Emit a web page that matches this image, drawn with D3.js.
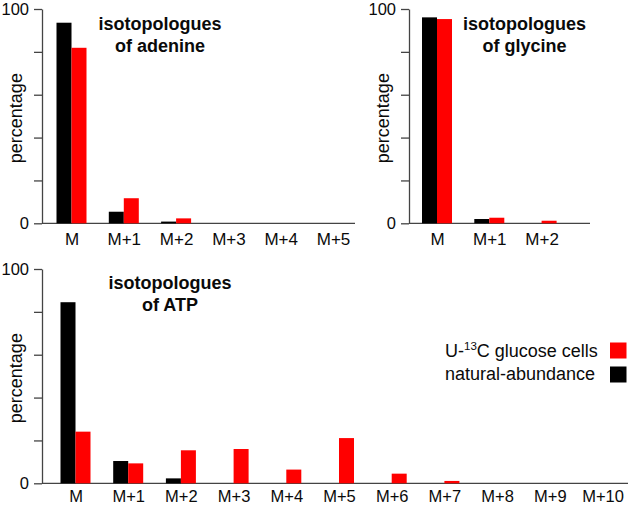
<!DOCTYPE html>
<html>
<head>
<meta charset="utf-8">
<script src="https://cdn.jsdelivr.net/npm/d3@7"></script>
<style>
  html, body { margin: 0; padding: 0; background: #fff; }
  svg { display: block; font-family: "Liberation Sans", Arial, Helvetica, sans-serif; }
</style>
</head>
<body>
<svg id="chart" width="630" height="507"></svg>
<script>
// ---- data ----
const adenineCats = ["M", "M+1", "M+2", "M+3", "M+4", "M+5"];
const adenineNatural = [93.6, 5.4, 0.8, 0, 0, 0];
const adenineLabeled = [81.9, 11.7, 2.3, 0, 0, 0];

const glycineCats = ["M", "M+1", "M+2"];
const glycineNatural = [96.1, 2.0, 0];
const glycineLabeled = [95.3, 2.6, 1.2];

const atpCats = ["M", "M+1", "M+2", "M+3", "M+4", "M+5", "M+6", "M+7", "M+8", "M+9", "M+10"];
const atpNatural = [84.5, 10.4, 2.3, 0, 0, 0, 0, 0, 0, 0, 0];
const atpLabeled = [24.1, 9.3, 15.4, 16.0, 6.4, 21.1, 4.5, 1.1, 0, 0, 0];

const yTickValues = [0, 20, 40, 60, 80, 100];
const yTickLabels = ["0", "", "", "", "", "100"];
const seriesNames = ["U-13C glucose cells", "natural-abundance"];
const seriesColors = ["#ff0000", "#000000"];

// ---- drawing ----
const svg = d3.select("#chart");
const axisColor = "#444";
const textColor = "#0a0a0a";
const barW = 15;

function panel(cfg) {
  const g = svg.append("g");
  const y = d3.scaleLinear().domain([0, 100]).range([cfg.yBottom, cfg.yTop]);
  const x = d3.scalePoint().domain(cfg.cats)
    .range([cfg.c0, cfg.c0 + cfg.step * (cfg.cats.length - 1)]);

  // y axis
  const yAxis = d3.axisLeft(y).tickValues(yTickValues)
    .tickFormat((d, i) => yTickLabels[i]).tickSize(8).tickPadding(5).tickSizeOuter(0);
  const ya = g.append("g").attr("transform", `translate(${cfg.axisX},0)`).call(yAxis);
  ya.select(".domain").attr("stroke", axisColor).attr("stroke-width", 1.3);
  ya.selectAll(".tick line").attr("stroke", axisColor).attr("stroke-width", 1.3);
  ya.selectAll(".tick text").attr("font-size", 16.5).attr("fill", textColor)
    .attr("font-family", "'Liberation Sans', Arial, sans-serif");

  // x axis line
  g.append("line").attr("x1", cfg.axisX).attr("x2", cfg.xRight)
    .attr("y1", y(0)).attr("y2", y(0))
    .attr("stroke", axisColor).attr("stroke-width", 1.3);

  // x labels
  const xAxis = d3.axisBottom(x).tickSize(0).tickPadding(cfg.xPad);
  const xa = g.append("g").attr("transform", `translate(0,${y(0)})`).call(xAxis);
  xa.select(".domain").remove();
  xa.selectAll(".tick text").attr("font-size", cfg.xFont).attr("fill", textColor)
    .attr("font-family", "'Liberation Sans', Arial, sans-serif");

  // bars: natural (black) left, labeled (red) right
  const data = cfg.cats.map((c, i) => ({ c, nat: cfg.natural[i], lab: cfg.labeled[i] }));
  g.selectAll("rect.nat").data(data.filter(d => d.nat > 0)).join("rect")
    .attr("class", "nat")
    .attr("x", d => x(d.c) - barW).attr("width", barW)
    .attr("y", d => y(d.nat)).attr("height", d => y(0) - y(d.nat))
    .attr("fill", seriesColors[1]);
  g.selectAll("rect.lab").data(data.filter(d => d.lab > 0)).join("rect")
    .attr("class", "lab")
    .attr("x", d => x(d.c)).attr("width", barW)
    .attr("y", d => y(d.lab)).attr("height", d => y(0) - y(d.lab))
    .attr("fill", seriesColors[0]);

  // y label
  g.append("text")
    .attr("transform", `translate(${cfg.yLabelX},${(cfg.yTop + cfg.yBottom) / 2 + 2}) rotate(-90)`)
    .attr("text-anchor", "middle").attr("font-size", 18).attr("fill", textColor)
    .text("percentage");

  // title
  cfg.title.forEach((t, i) => {
    g.append("text").attr("x", cfg.titleX).attr("y", cfg.titleY + i * 22)
      .attr("text-anchor", "middle").attr("font-size", 18).attr("font-weight", "bold")
      .attr("fill", textColor).text(t);
  });
}

panel({
  cats: adenineCats, natural: adenineNatural, labeled: adenineLabeled,
  axisX: 42, xRight: 355, yTop: 9, yBottom: 223.3, c0: 71.5, step: 52.3,
  xPad: 9.5, xFont: 17,
  yLabelX: 22, title: ["isotopologues", "of adenine"], titleX: 160, titleY: 30
});
panel({
  cats: glycineCats, natural: glycineNatural, labeled: glycineLabeled,
  axisX: 409, xRight: 590, yTop: 9, yBottom: 223.3, c0: 437, step: 52.3,
  xPad: 9.5, xFont: 17,
  yLabelX: 388.5, title: ["isotopologues", "of glycine"], titleX: 524.5, titleY: 30
});
panel({
  cats: atpCats, natural: atpNatural, labeled: atpLabeled,
  axisX: 42, xRight: 628, yTop: 269, yBottom: 483.3, c0: 75.5, step: 52.7,
  xPad: 7, xFont: 16.5,
  yLabelX: 22, title: ["isotopologues", "of ATP"], titleX: 170, titleY: 289
});

// legend
const leg = svg.append("g");
const legText1 = leg.append("text").attr("x", 445).attr("y", 357)
  .attr("font-size", 18).attr("fill", textColor);
legText1.append("tspan").text("U-");
legText1.append("tspan").attr("font-size", 11.5).attr("dy", -7).text("13");
legText1.append("tspan").attr("dy", 7).text("C glucose cells");
leg.append("text").attr("x", 445).attr("y", 379.5)
  .attr("font-size", 18).attr("fill", textColor).text(seriesNames[1]);
leg.selectAll("rect").data(seriesColors).join("rect")
  .attr("x", 610).attr("y", (d, i) => 342.5 + i * 24)
  .attr("width", 16.5).attr("height", 16).attr("fill", d => d);
</script>
</body>
</html>
